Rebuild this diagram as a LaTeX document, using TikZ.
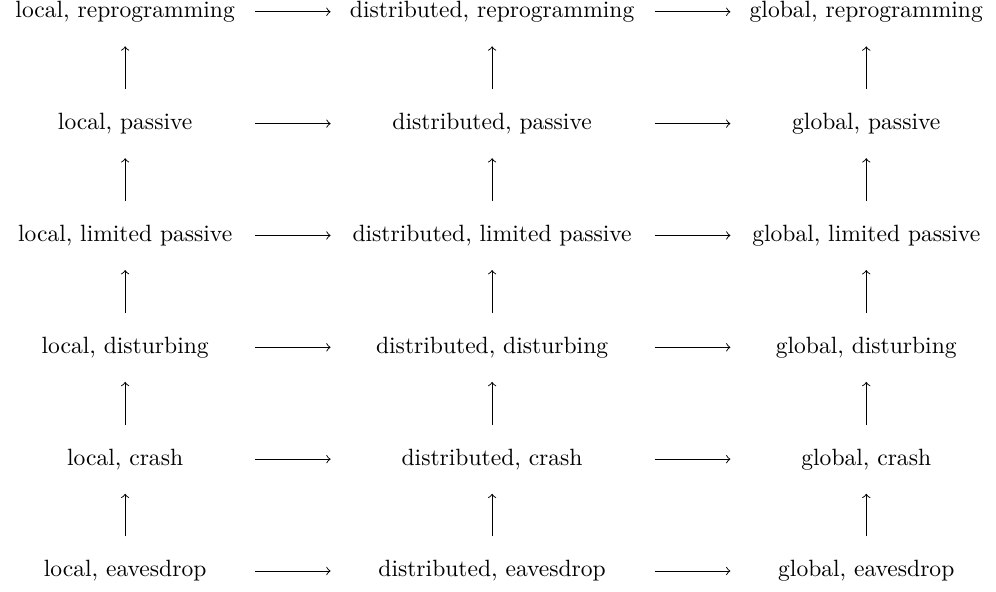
\documentclass[tikz,border=0pt]{standalone}
\usetikzlibrary{positioning}

\begin{document}
\begin{tikzpicture}[>=to, node distance=38.1pt and 44.6pt,
    cell/.style={inner sep=0pt, text height=7pt, text depth=2pt},
    lcol/.style={cell, minimum width=96.9pt},
    dcol/.style={cell, minimum width=124.8pt},
    gcol/.style={cell, minimum width=103pt},
    harr/.style={->, shorten <=6.4pt, shorten >=6pt},
    varr/.style={->, shorten <=10pt, shorten >=10pt}]
      \useasboundingbox (-53.15pt,5pt) rectangle (369.85pt,-246.4pt);

      % Nodes
      \node[lcol] (lrep) at (0,0) {local, reprogramming};
      \node[dcol, right=of lrep] (drep) {distributed, reprogramming};
      \node[gcol, right=of drep] (grep) {global, reprogramming};

      \node[lcol, below=of lrep] (lpas) {local, passive};
      \node[dcol, below=of drep] (dpas) {distributed, passive};
      \node[gcol, below=of grep] (gpas) {global, passive};

      \node[lcol, below=of lpas] (llim) {local, limited passive};
      \node[dcol, below=of dpas] (dlim) {distributed, limited passive};
      \node[gcol, below=of gpas] (glim) {global, limited passive};

      \node[lcol, below=of llim] (ldis) {local, disturbing};
      \node[dcol, below=of dlim] (ddis) {distributed, disturbing};
      \node[gcol, below=of glim] (gdis) {global, disturbing};

      \node[lcol, below=of ldis] (lcra) {local, crash};
      \node[dcol, below=of ddis] (dcra) {distributed, crash};
      \node[gcol, below=of gdis] (gcra) {global, crash};

      \node[lcol, below=of lcra] (leav) {local, eavesdrop};
      \node[dcol, below=of dcra] (deav) {distributed, eavesdrop};
      \node[gcol, below=of gcra] (geav) {global, eavesdrop};

      % Arrows
      \draw[harr] (lrep.east) -- (drep.west);
      \draw[harr] (drep.east) -- (grep.west);
      \draw[harr] (lpas.east) -- (dpas.west);
      \draw[harr] (dpas.east) -- (gpas.west);
      \draw[harr] (llim.east) -- (dlim.west);
      \draw[harr] (dlim.east) -- (glim.west);
      \draw[harr] (ldis.east) -- (ddis.west);
      \draw[harr] (ddis.east) -- (gdis.west);
      \draw[harr] (lcra.east) -- (dcra.west);
      \draw[harr] (dcra.east) -- (gcra.west);
      \draw[harr] (leav.east) -- (deav.west);
      \draw[harr] (deav.east) -- (geav.west);

      \draw[varr] (lpas.north) -- (lrep.south);
      \draw[varr] (dpas.north) -- (drep.south);
      \draw[varr] (gpas.north) -- (grep.south);
      \draw[varr] (llim.north) -- (lpas.south);
      \draw[varr] (dlim.north) -- (dpas.south);
      \draw[varr] (glim.north) -- (gpas.south);
      \draw[varr] (ldis.north) -- (llim.south);
      \draw[varr] (ddis.north) -- (dlim.south);
      \draw[varr] (gdis.north) -- (glim.south);
      \draw[varr] (lcra.north) -- (ldis.south);
      \draw[varr] (dcra.north) -- (ddis.south);
      \draw[varr] (gcra.north) -- (gdis.south);
      \draw[varr] (leav.north) -- (lcra.south);
      \draw[varr] (deav.north) -- (dcra.south);
      \draw[varr] (geav.north) -- (gcra.south);
    \end{tikzpicture}
\end{document}
